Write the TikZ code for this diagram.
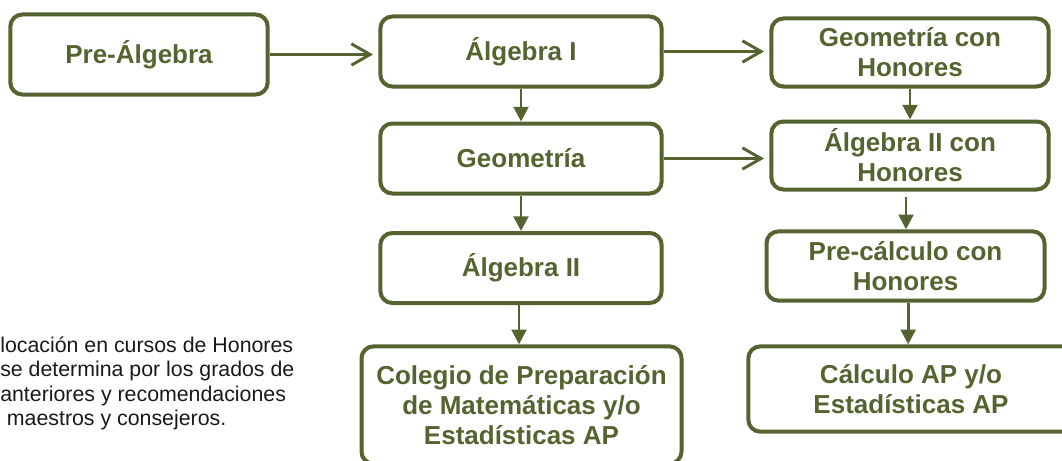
\documentclass[tikz,border=0pt]{standalone}
\usepackage{fontspec}
\setmainfont{Liberation Sans}
\usetikzlibrary{arrows.meta}
\definecolor{olivo}{RGB}{84,99,47}
\newcommand{\boxfont}{\fontsize{19.5}{22.5}\selectfont\bfseries}

\begin{document}
\begin{tikzpicture}[x=0.75pt, y=-0.75pt,
    curso/.style={draw=olivo, line width=3pt, rounded corners=9pt, text=olivo,
      font=\boxfont, align=center, inner sep=0pt},
    lado/.style={draw=olivo, line width=2.2pt, -{Straight Barb[length=14pt, width=16pt, line width=2.2pt]}, shorten >=4pt},
    baja/.style={draw=olivo, line width=2.2pt, -{Triangle[length=11pt, width=11pt]}}]
		\useasboundingbox (0,0) rectangle (1062,460);
		
		\draw (139,54.5) node[curso, minimum width=193pt, minimum height=60pt] (pre) {Pre-Álgebra};
		\draw (521,51.5) node[curso, minimum width=211pt, minimum height=52.5pt] (alg1) {Álgebra I};
		\draw (521,158.5) node[curso, minimum width=211pt, minimum height=52.5pt] (geo) {Geometría};
		\draw (521,268) node[curso, minimum width=211pt, minimum height=52.5pt] (alg2) {Álgebra II};
		\draw (521.5,405) node[curso, minimum width=240pt, minimum height=88pt] (col) {Colegio de Preparación\\de Matemáticas y/o\\Estadísticas AP};
		
		\draw (910,52.5) node[curso, minimum width=208pt, minimum height=51pt] (geoh) {Geometría con\\Honores};
		\draw (910,155.5) node[curso, minimum width=208pt, minimum height=51pt] (alg2h) {Álgebra II con\\Honores};
		\draw (905.5,266) node[curso, minimum width=208.5pt, minimum height=52pt] (prech) {Pre-cálculo con\\Honores};
		\draw (911,389) node[curso, minimum width=244pt, minimum height=64pt] (calc) {Cálculo AP y/o\\Estadísticas AP};
		
		\draw (0,383.5) node[anchor=west, align=left, inner sep=0pt, text=black!90,
		  font=\fontsize{16}{18.25}\selectfont] (nota) {locación en cursos de Honores\\se determina por los grados de\\anteriores y recomendaciones\\\hspace*{5pt}maestros y consejeros.};
		
		% flechas horizontales
		\draw[lado] (pre.east) -- (pre.east -| alg1.west);
		\draw[lado] (alg1.east) -- (alg1.east -| geoh.west);
		\draw[lado] (geo.east) -- (geo.east -| alg2h.west);
		
		% flechas verticales
		\draw[baja] (alg1) -- (geo);
		\draw[baja] (geo) -- (alg2);
		\draw[baja] ([xshift=-1.5pt]alg2.south) -- ([xshift=-1.5pt]alg2.south |- col.north);
		\draw[baja] (geoh.south) -- (geoh.south |- alg2h.north);
		\draw[baja] ([xshift=-3pt, yshift=-4pt]alg2h.south) -- ([xshift=-3pt]alg2h.south |- prech.north);
		\draw[baja] ([xshift=2pt]prech.south) -- ([xshift=2pt]prech.south |- calc.north);
	\end{tikzpicture}
\end{document}
